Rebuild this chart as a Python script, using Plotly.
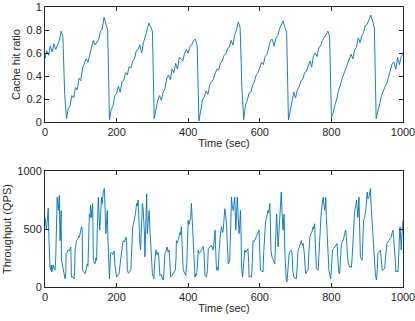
import plotly.graph_objects as go
from plotly.subplots import make_subplots

# cache hit ratio, sampled every 5 s
cache_time = list(range(0, 1001, 5))
cache_ratio = [
    0.55, 0.62, 0.58, 0.66, 0.61, 0.68, 0.63, 0.68, 0.71, 0.79, 0.74, 0.24,
    0.03, 0.12, 0.14, 0.23, 0.21, 0.30, 0.28, 0.38, 0.36, 0.47, 0.52, 0.55,
    0.52, 0.58, 0.64, 0.71, 0.67, 0.69, 0.72, 0.79, 0.81, 0.91, 0.86, 0.80,
    0.02, 0.11, 0.14, 0.23, 0.25, 0.31, 0.26, 0.35, 0.36, 0.43, 0.41, 0.48,
    0.47, 0.53, 0.55, 0.62, 0.63, 0.67, 0.60, 0.69, 0.74, 0.81, 0.86, 0.83,
    0.79, 0.03, 0.13, 0.19, 0.23, 0.19, 0.26, 0.29, 0.38, 0.41, 0.37, 0.46,
    0.43, 0.51, 0.46, 0.56, 0.55, 0.53, 0.60, 0.63, 0.60, 0.66, 0.67, 0.71,
    0.72, 0.66, 0.01, 0.09, 0.19, 0.22, 0.27, 0.24, 0.32, 0.35, 0.37, 0.42,
    0.46, 0.45, 0.51, 0.53, 0.58, 0.59, 0.64, 0.65, 0.71, 0.67, 0.76, 0.80,
    0.87, 0.82, 0.30, 0.02, 0.15, 0.19, 0.25, 0.26, 0.32, 0.35, 0.41, 0.43,
    0.48, 0.52, 0.50, 0.57, 0.59, 0.66, 0.71, 0.72, 0.66, 0.73, 0.75, 0.81,
    0.84, 0.88, 0.82, 0.78, 0.02, 0.11, 0.18, 0.26, 0.21, 0.28, 0.31, 0.36,
    0.37, 0.43, 0.44, 0.49, 0.53, 0.48, 0.58, 0.60, 0.57, 0.65, 0.66, 0.71,
    0.73, 0.76, 0.79, 0.75, 0.04, 0.08, 0.15, 0.20, 0.28, 0.32, 0.38, 0.42,
    0.47, 0.50, 0.55, 0.59, 0.55, 0.63, 0.65, 0.73, 0.69, 0.75, 0.78, 0.84,
    0.85, 0.89, 0.93, 0.88, 0.82, 0.03, 0.11, 0.16, 0.23, 0.28, 0.31, 0.34,
    0.39, 0.46, 0.51, 0.52, 0.46, 0.56, 0.50, 0.57, 0.59,
]

# throughput readings (time in s, QPS)
tp_time = [
    0, 2, 4, 6, 8, 9, 11, 12, 14, 16, 18, 19, 21, 23, 25, 28, 30, 31, 33, 34,
    36, 37, 39, 40, 42, 43, 45, 46, 48, 51, 53, 56, 58, 59, 62, 65, 68, 70,
    72, 74, 77, 81, 83, 84, 86, 88, 91, 94, 96, 98, 100, 102, 104, 105, 108,
    112, 115, 118, 120, 122, 124, 126, 127, 129, 130, 132, 133, 134, 135, 138,
    140, 142, 144, 146, 149, 151, 153, 155, 158, 160, 163, 166, 168, 170, 172,
    174, 176, 177, 179, 180, 182, 183, 186, 189, 191, 193, 195, 197, 200, 203,
    207, 210, 212, 214, 217, 220, 223, 226, 228, 229, 230, 233, 237, 240, 242,
    245, 248, 251, 253, 256, 258, 260, 262, 263, 265, 267, 269, 272, 274, 276,
    278, 279, 281, 284, 285, 286, 288, 291, 293, 295, 297, 300, 302, 304, 306,
    308, 310, 313, 316, 318, 319, 321, 324, 328, 330, 332, 335, 338, 341, 344,
    347, 349, 351, 355, 358, 361, 364, 366, 367, 370, 372, 374, 377, 379, 381,
    383, 385, 386, 390, 393, 396, 398, 400, 402, 405, 407, 409, 411, 414, 416,
    419, 421, 423, 425, 428, 431, 434, 437, 440, 442, 444, 446, 447, 451, 454,
    456, 459, 462, 465, 468, 470, 473, 475, 477, 479, 482, 484, 486, 488, 490,
    493, 496, 498, 500, 502, 504, 507, 509, 512, 514, 516, 518, 521, 523, 526,
    528, 530, 532, 533, 535, 537, 539, 542, 544, 546, 548, 549, 552, 554, 556,
    558, 561, 564, 567, 569, 570, 574, 577, 579, 581, 584, 587, 591, 594, 596,
    598, 600, 602, 605, 609, 611, 614, 616, 619, 621, 623, 625, 628, 630, 631,
    634, 637, 640, 642, 644, 647, 649, 651, 653, 656, 658, 660, 662, 665, 666,
    668, 670, 672, 674, 676, 678, 680, 682, 685, 688, 690, 692, 695, 698, 702,
    704, 707, 710, 713, 716, 719, 721, 724, 726, 728, 731, 735, 737, 740, 743,
    746, 749, 751, 753, 755, 756, 758, 763, 765, 767, 770, 772, 774, 777, 779,
    781, 783, 784, 786, 788, 790, 791, 793, 795, 798, 800, 803, 806, 809, 812,
    816, 818, 819, 821, 823, 825, 828, 831, 834, 837, 840, 842, 844, 846, 848,
    851, 854, 856, 858, 860, 863, 865, 868, 870, 872, 874, 876, 877, 879, 881,
    884, 886, 888, 890, 893, 896, 898, 900, 902, 905, 907, 909, 911, 914, 916,
    918, 920, 923, 926, 928, 930, 933, 937, 939, 942, 945, 949, 951, 953, 955,
    958, 961, 964, 967, 970, 972, 974, 977, 979, 980, 983, 986, 988, 989, 991,
    992, 994, 995, 997, 998, 1000,
]
tp_qps = [
    600, 540, 500, 560, 620, 680, 420, 220, 170, 150, 190, 130, 175, 190, 160,
    145, 250, 490, 700, 775, 700, 660, 740, 790, 400, 520, 660, 230, 200, 145,
    110, 70, 120, 290, 300, 320, 310, 340, 345, 85, 90, 70, 150, 320, 360, 400,
    410, 440, 430, 475, 500, 520, 500, 145, 130, 115, 150, 200, 180, 460, 630,
    600, 705, 650, 600, 680, 720, 500, 230, 210, 200, 250, 230, 500, 775, 620,
    490, 600, 775, 720, 830, 850, 700, 460, 560, 660, 400, 230, 120, 70, 200,
    290, 300, 280, 300, 310, 200, 140, 85, 100, 115, 200, 270, 320, 380, 400,
    390, 430, 400, 260, 145, 120, 130, 160, 350, 520, 560, 600, 640, 720, 700,
    750, 600, 460, 380, 320, 500, 720, 680, 600, 450, 260, 500, 805, 600, 460,
    560, 660, 500, 345, 250, 115, 90, 70, 200, 300, 320, 280, 300, 250, 150,
    100, 110, 85, 60, 120, 290, 310, 345, 300, 320, 200, 85, 100, 115, 130, 145,
    250, 400, 380, 420, 430, 470, 450, 520, 400, 180, 145, 120, 100, 200, 400,
    575, 540, 575, 600, 720, 600, 430, 250, 85, 110, 100, 150, 320, 290, 300,
    320, 340, 350, 300, 150, 100, 85, 150, 330, 340, 350, 360, 330, 320, 420,
    490, 300, 145, 170, 145, 300, 430, 460, 520, 470, 490, 600, 675, 640, 545,
    380, 200, 210, 230, 450, 775, 700, 660, 720, 775, 600, 490, 620, 775, 650,
    460, 540, 660, 400, 170, 85, 150, 280, 320, 300, 320, 330, 200, 85, 95, 85,
    200, 400, 390, 410, 430, 450, 470, 490, 300, 145, 140, 130, 300, 520, 560,
    600, 620, 660, 640, 720, 500, 320, 260, 230, 210, 200, 400, 630, 500, 345,
    450, 660, 720, 820, 650, 490, 560, 630, 300, 85, 60, 45, 150, 260, 290, 310,
    320, 300, 150, 85, 80, 70, 150, 320, 340, 380, 400, 360, 375, 300, 200, 115,
    130, 145, 300, 430, 460, 480, 520, 500, 545, 400, 200, 160, 145, 300, 430,
    560, 660, 700, 775, 720, 660, 700, 775, 600, 460, 300, 200, 150, 115, 70,
    150, 320, 330, 345, 360, 375, 250, 145, 120, 115, 200, 375, 390, 415, 460,
    490, 420, 300, 230, 200, 170, 180, 170, 260, 375, 520, 660, 700, 750, 680,
    600, 700, 775, 500, 260, 240, 230, 400, 575, 600, 660, 720, 820, 760, 775,
    800, 850, 700, 575, 450, 345, 250, 100, 60, 150, 290, 300, 320, 250, 145,
    150, 160, 250, 340, 375, 390, 400, 420, 430, 470, 490, 420, 320, 200, 130,
    140, 130, 300, 490, 500, 520, 420, 320, 450, 545, 575,
]

line_color = "#0072BD"
axis_color = "#262626"
font = dict(family="Liberation Sans, Arial, sans-serif", size=11, color=axis_color)

fig = make_subplots(rows=2, cols=1)
fig.add_trace(
    go.Scatter(x=cache_time, y=cache_ratio, mode="lines",
               line=dict(color=line_color, width=0.9)),
    row=1, col=1,
)
fig.add_trace(
    go.Scatter(x=tp_time, y=tp_qps, mode="lines",
               line=dict(color=line_color, width=0.9)),
    row=2, col=1,
)

axis_style = dict(
    showline=True, linecolor=axis_color, linewidth=1, mirror="ticks",
    ticks="inside", ticklen=4, tickcolor=axis_color, tickwidth=1,
    showgrid=False, zeroline=False, tickfont=font, automargin=False,
    ticklabeloverflow="allow",
)
fig.update_xaxes(axis_style)
fig.update_yaxes(axis_style)

fig.update_xaxes(range=[0, 1000], tickvals=[0, 200, 400, 600, 800, 1000],
                 title=dict(text="Time (sec)", font=font, standoff=2))
fig.update_yaxes(range=[0, 1], tickvals=[0, 0.2, 0.4, 0.6, 0.8, 1],
                 ticktext=["0", "0.2", "0.4", "0.6", "0.8", "1"],
                 title=dict(text="Cache hit ratio", font=font, standoff=3),
                 row=1, col=1)
fig.update_yaxes(range=[0, 1000], tickvals=[0, 500, 1000],
                 title=dict(text="Throughput (QPS)", font=font, standoff=3),
                 row=2, col=1)

fig.update_layout(
    width=415, height=321,
    margin=dict(l=45, r=12, t=7, b=34),
    paper_bgcolor="white", plot_bgcolor="white",
    showlegend=False, font=font,
    yaxis=dict(domain=[0.589, 1.0]),
    yaxis2=dict(domain=[0.0, 0.414]),
)

# drop the browser's default body margin so the figure sits at the page corner
fig.write_html("out.html", config={"displayModeBar": False},
               post_script="document.body.style.margin='0';")
